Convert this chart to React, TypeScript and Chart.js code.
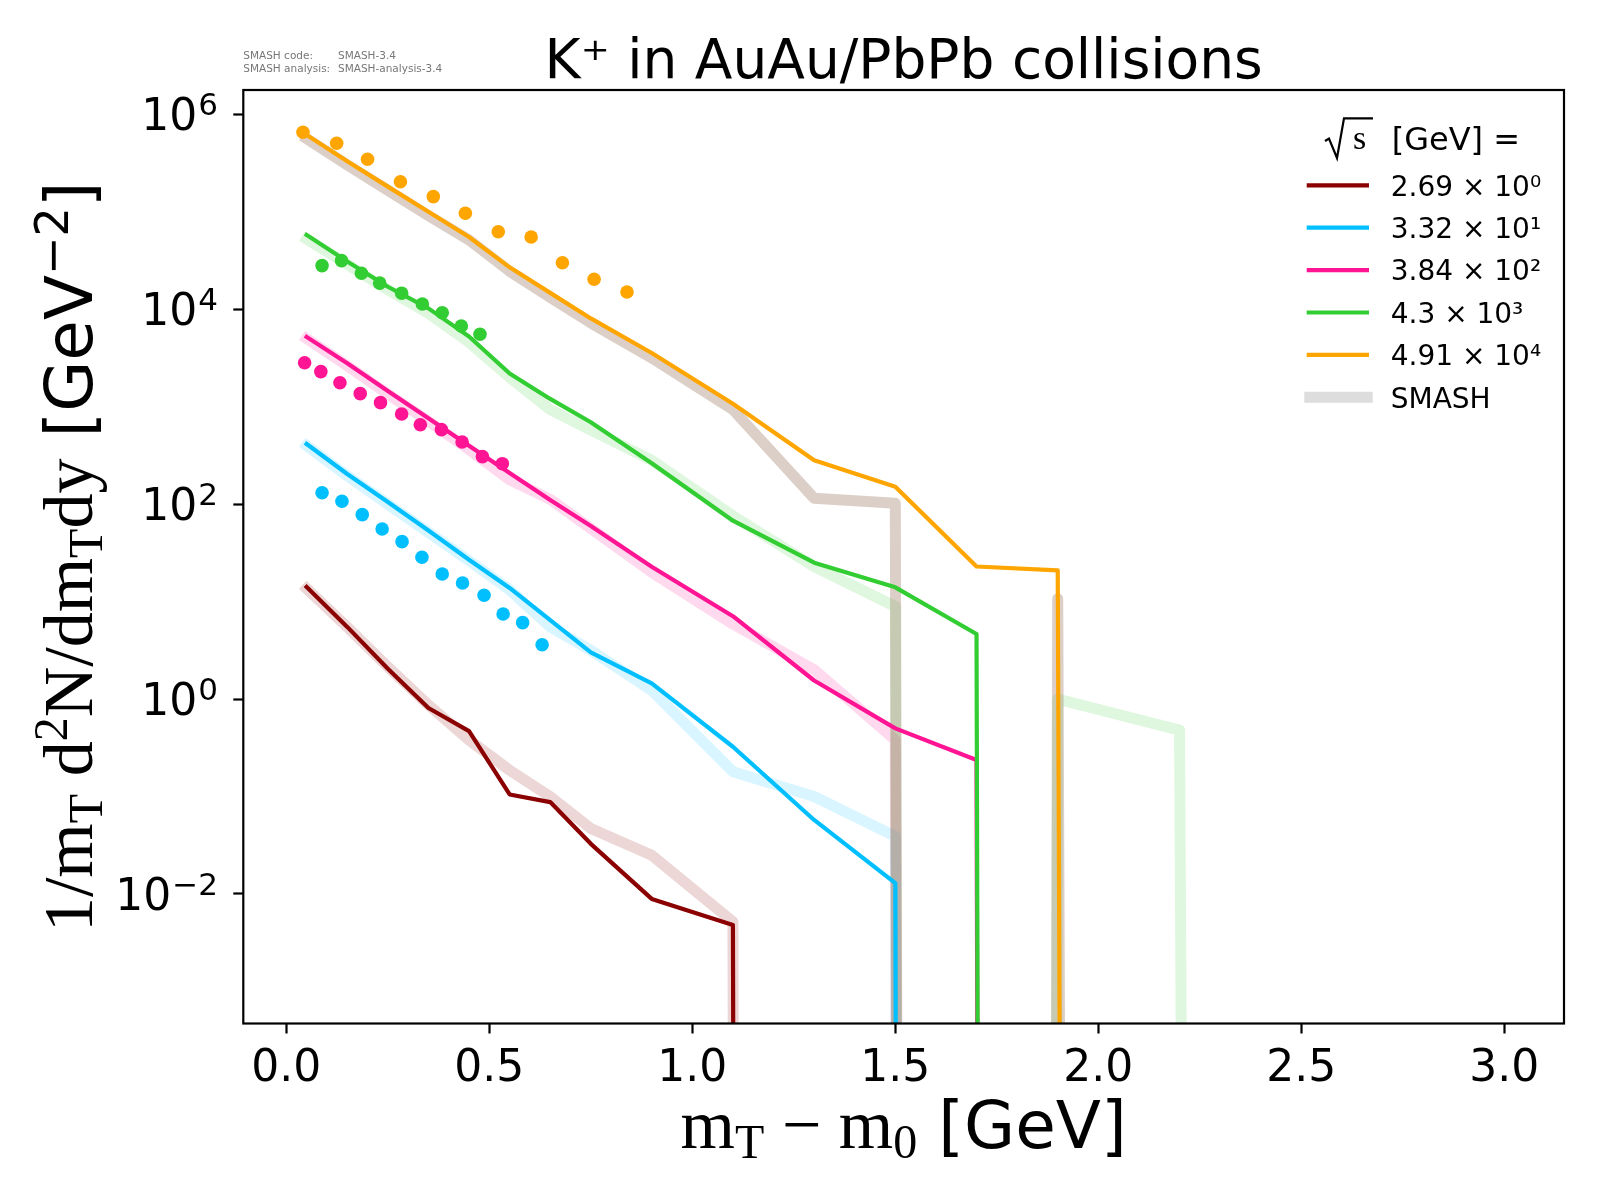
import React, { useEffect, useRef } from 'react';
import { Chart, registerables, LogarithmicScale } from 'chart.js';

// bin centres of the model spectra, m_T - m_0 [GeV]
const mtBins = [0.05, 0.15, 0.25, 0.35, 0.45, 0.55, 0.65, 0.75, 0.9, 1.1, 1.3, 1.5, 1.7, 1.9, 2.2, 2.6, 3.0];

// 1/m_T d2N/dm_T dy [GeV^-2] per sqrt(s); 0 means an empty bin
const model269 = [14.1, 5.5, 2.05, 0.81, 0.468, 0.105, 0.0877, 0.0327, 0.0089, 0.0048, 0, 0, 0, 0, 0, 0, 0];
const smash269 = [13.6, 5.5, 2.14, 0.87, 0.38, 0.186, 0.1, 0.047, 0.025, 0.0052, 0, 0, 0, 0, 0, 0, 0];
const model332 = [414, 204, 105, 53.7, 26.9, 13.8, 6.46, 3.02, 1.45, 0.324, 0.0575, 0.0129, 0, 0, 0, 0, 0];
const smash332 = [398, 195, 100, 51.3, 26.3, 13.2, 5.5, 3.16, 1.23, 0.18, 0.1, 0.039, 0, 0, 0, 0, 0];
const model384 = [5190, 2790, 1450, 759, 398, 209, 110, 59.7, 22.8, 7.08, 1.55, 0.5, 0.237, 0, 0, 0, 0];
const smash384 = [5010, 2630, 1350, 708, 363, 178, 112, 56.2, 20.0, 5.89, 2.0, 0.38, 0, 0, 0, 0, 0];
const model43 = [57800, 30900, 17000, 10200, 5250, 2190, 1200, 692, 263, 67.6, 25.1, 14.0, 4.65, 0, 0, 0, 0];
const smash43 = [52500, 28800, 15800, 9100, 4570, 2000, 933, 575, 282, 75.9, 22.9, 8.9, 0, 1.0, 0.48, 0, 0];
const model491 = [614000, 330000, 181000, 100000, 55000, 26900, 14700, 8040, 3550, 1070, 282, 151, 22.9, 20.9, 0, 0, 0];
const smash491 = [562000, 302000, 166000, 91200, 51300, 24500, 13200, 7240, 3160, 933, 115, 102, 0, 10.7, 0, 0, 0];

// experimental points
const expX332 = [0.088, 0.137, 0.187, 0.236, 0.285, 0.334, 0.384, 0.434, 0.487, 0.534, 0.582, 0.63];
const expY332 = [131, 107, 78, 55.6, 41.2, 28.5, 19.2, 15.5, 11.6, 7.46, 6.08, 3.61];
const expX384 = [0.045, 0.085, 0.132, 0.182, 0.232, 0.284, 0.33, 0.382, 0.433, 0.483, 0.532];
const expY384 = [2820, 2290, 1760, 1360, 1100, 840, 653, 581, 434, 307, 260];
const expX43 = [0.088, 0.136, 0.185, 0.23, 0.284, 0.335, 0.384, 0.431, 0.477];
const expY43 = [28000, 31500, 23400, 18500, 14600, 11300, 9200, 6730, 5530];
const expX491 = [0.041, 0.124, 0.2, 0.281, 0.362, 0.441, 0.522, 0.603, 0.68, 0.758, 0.839];
const expY491 = [653000, 504000, 345000, 203000, 143000, 96400, 62400, 55100, 30000, 20300, 15000];

const energyLabels = ['2.69 × 10⁰', '3.32 × 10¹', '3.84 × 10²', '4.3 × 10³', '4.91 × 10⁴'];
const xTicks = [0, 0.5, 1, 1.5, 2, 2.5, 3];
const yTicks = [1e-2, 1, 1e2, 1e4, 1e6];

const colors = ['#8b0000', '#00bfff', '#ff1493', '#32cd32', '#ffa500'];
const bandColors = [
  'rgba(139,0,0,0.16)',
  'rgba(0,191,255,0.15)',
  'rgba(255,20,147,0.16)',
  'rgba(50,205,50,0.155)',
  'rgba(138,95,72,0.3)',
];

const SANS = '"DejaVu Sans"';
const SERIF = '"Liberation Serif"';

const series = [
  { model: model269, smash: smash269, expX: [] as number[], expY: [] as number[] },
  { model: model332, smash: smash332, expX: expX332, expY: expY332 },
  { model: model384, smash: smash384, expX: expX384, expY: expY384 },
  { model: model43, smash: smash43, expX: expX43, expY: expY43 },
  { model: model491, smash: smash491, expX: expX491, expY: expY491 },
];

// log axis that sends empty bins far below the frame (like matplotlib's clipping)
class ClipLogScale extends LogarithmicScale {
  static id = 'cliplog';
  static defaults = LogarithmicScale.defaults;
  parse(raw: unknown, index: number) {
    if (raw === 0) return 1e-300;
    return super.parse(raw, index);
  }
}

Chart.register(...registerables, ClipLogScale);

type Run = { text: string; font: string; dy?: number };

const drawRuns = (ctx: CanvasRenderingContext2D, runs: Run[], cx: number, baseline: number) => {
  const widths = runs.map(r => {
    ctx.font = r.font;
    return ctx.measureText(r.text).width;
  });
  let x = cx - widths.reduce((a, b) => a + b, 0) / 2;
  runs.forEach((r, i) => {
    ctx.font = r.font;
    ctx.fillText(r.text, x, baseline + (r.dy ?? 0));
    x += widths[i];
  });
};

const xTitle: Run[] = [
  { text: 'm', font: `70px ${SERIF}` },
  { text: 'T', font: `48px ${SERIF}`, dy: 10 },
  { text: ' − ', font: `70px ${SERIF}` },
  { text: 'm', font: `70px ${SERIF}` },
  { text: '0', font: `48px ${SERIF}`, dy: 10 },
  { text: ' [GeV]', font: `66px ${SANS}` },
];

const yTitle: Run[] = [
  { text: '1/m', font: `70px ${SERIF}` },
  { text: 'T', font: `48px ${SERIF}`, dy: 10 },
  { text: ' d', font: `70px ${SERIF}` },
  { text: '2', font: `48px ${SERIF}`, dy: -25 },
  { text: 'N/dm', font: `70px ${SERIF}` },
  { text: 'T', font: `48px ${SERIF}`, dy: 10 },
  { text: 'dy', font: `70px ${SERIF}` },
  { text: ' [GeV', font: `66px ${SANS}` },
  { text: '−2', font: `46px ${SANS}`, dy: -24 },
  { text: ']', font: `66px ${SANS}` },
];

const decorations = {
  id: 'decorations',
  afterDraw(chart: Chart) {
    const { ctx, chartArea: a } = chart;
    const cx = (a.left + a.right) / 2;
    ctx.save();
    ctx.textAlign = 'left';
    ctx.textBaseline = 'alphabetic';

    // frame
    ctx.strokeStyle = '#000';
    ctx.lineWidth = 2.2;
    ctx.strokeRect(a.left, a.top, a.right - a.left, a.bottom - a.top);

    // y tick labels 10^n with a real superscript
    ctx.fillStyle = '#000';
    const yScale: any = chart.scales.y;
    yScale.ticks.forEach((t: any) => {
      const py = yScale.getPixelForValue(t.value);
      const exp = String(Math.round(Math.log10(t.value))).replace('-', '−');
      ctx.font = `44px ${SANS}`;
      const wBase = ctx.measureText('10').width;
      ctx.font = `31px ${SANS}`;
      const wExp = ctx.measureText(exp).width;
      const x0 = 217 - wBase - wExp;
      ctx.font = `44px ${SANS}`;
      ctx.fillText('10', x0, py + 16);
      ctx.font = `31px ${SANS}`;
      ctx.fillText(exp, x0 + wBase + 1, py + 1);
    });

    // title
    drawRuns(ctx, [{ text: 'K⁺ in AuAu/PbPb collisions', font: `55px ${SANS}` }], cx, 78);

    // version stamp
    ctx.fillStyle = '#777';
    ctx.font = `10.5px ${SANS}`;
    ctx.fillText('SMASH code:', a.left, 59);
    ctx.fillText('SMASH-3.4', 338, 59);
    ctx.fillText('SMASH analysis:', a.left, 71.5);
    ctx.fillText('SMASH-analysis-3.4', 338, 71.5);

    // axis titles
    ctx.fillStyle = '#000';
    drawRuns(ctx, xTitle, cx, 1148);
    ctx.save();
    ctx.translate(92, (a.top + a.bottom) / 2);
    ctx.rotate(-Math.PI / 2);
    drawRuns(ctx, yTitle, 0, 0);
    ctx.restore();

    // legend title: sqrt(s) [GeV] =
    ctx.strokeStyle = '#000';
    ctx.lineWidth = 2.2;
    ctx.lineJoin = 'miter';
    ctx.beginPath();
    ctx.moveTo(1325, 141);
    ctx.lineTo(1329, 138.5);
    ctx.lineTo(1337, 158);
    ctx.lineTo(1344, 118.3);
    ctx.lineTo(1373, 118.3);
    ctx.stroke();
    ctx.font = `34px ${SERIF}`;
    ctx.fillText('s', 1353, 148.5);
    ctx.font = `32px ${SANS}`;
    ctx.fillText('[GeV] =', 1391.7, 149.5);

    // legend entries
    const rows = [...energyLabels, 'SMASH'];
    rows.forEach((label, i) => {
      const y = 185.3 + i * 42.4;
      const isBand = i === rows.length - 1;
      ctx.strokeStyle = isBand ? '#dddddd' : colors[i];
      ctx.lineWidth = isBand ? 11 : 4.2;
      ctx.lineCap = 'butt';
      ctx.beginPath();
      ctx.moveTo(isBand ? 1304.3 : 1306.7, y);
      ctx.lineTo(isBand ? 1372.7 : 1369, y);
      ctx.stroke();
      ctx.fillStyle = '#000';
      ctx.font = `28px ${SANS}`;
      ctx.fillText(label, 1390.7, y + 10.2);
    });
    ctx.restore();
  },
};

export default function App() {
  const canvasRef = useRef<HTMLCanvasElement | null>(null);

  useEffect(() => {
    if (!canvasRef.current) return;

    const datasets: any[] = [];
    series.forEach((s, k) => {
      datasets.push({
        label: 'SMASH ' + energyLabels[k],
        data: mtBins.map((x, i) => ({ x, y: s.smash[i] })),
        borderColor: bandColors[k],
        borderWidth: 11,
        borderCapStyle: 'square',
        borderJoinStyle: 'round',
        pointRadius: 0,
        clip: 0,
        order: 20 + (4 - k),
      });
      datasets.push({
        label: energyLabels[k],
        data: mtBins.map((x, i) => ({ x, y: s.model[i] })),
        borderColor: colors[k],
        borderWidth: 4.2,
        borderCapStyle: 'square',
        borderJoinStyle: 'round',
        pointRadius: 0,
        clip: 0,
        order: 10 + (4 - k),
      });
      if (s.expX.length) {
        datasets.push({
          label: 'data ' + energyLabels[k],
          data: s.expX.map((x, i) => ({ x, y: s.expY[i] })),
          showLine: false,
          pointRadius: 6.8,
          pointBorderWidth: 0,
          pointBackgroundColor: colors[k],
          borderColor: colors[k],
          clip: 0,
          order: 4 - k,
        });
      }
    });

    const chart = new Chart(canvasRef.current, {
      type: 'line',
      data: { datasets },
      options: {
        animation: false,
        responsive: false,
        devicePixelRatio: 1,
        events: [],
        layout: { autoPadding: false, padding: { left: 0, top: 90, right: 36, bottom: 0 } },
        plugins: { legend: { display: false }, title: { display: false }, tooltip: { enabled: false } },
        scales: {
          x: {
            type: 'linear',
            position: 'bottom',
            min: -0.106,
            max: 3.147,
            bounds: 'data',
            afterBuildTicks: (scale: any) => {
              scale.ticks = xTicks.map(v => ({ value: v }));
            },
            afterFit: (scale: any) => {
              scale.height = 176.5;
            },
            grid: { drawOnChartArea: false, drawTicks: true, tickLength: 10, tickWidth: 2.2, tickColor: '#000' },
            border: { display: false },
            ticks: {
              autoSkip: false,
              maxRotation: 0,
              padding: 10,
              color: '#000',
              font: { family: 'DejaVu Sans', size: 44 },
              callback: (v: any) => Number(v).toFixed(1),
            },
          },
          y: {
            type: 'cliplog',
            position: 'left',
            min: 4.69e-4,
            max: 1.774e6,
            bounds: 'data',
            afterBuildTicks: (scale: any) => {
              scale.ticks = yTicks.map(v => ({ value: v }));
            },
            afterFit: (scale: any) => {
              scale.width = 243.3;
            },
            grid: { drawOnChartArea: false, drawTicks: true, tickLength: 10, tickWidth: 2.2, tickColor: '#000' },
            border: { display: false },
            ticks: {
              autoSkip: false,
              padding: 15,
              color: '#000',
              font: { family: 'DejaVu Sans', size: 44 },
              // labels with superscripts are painted by the decorations plugin
              callback: () => '',
            },
          },
        } as any,
      },
      plugins: [decorations],
    });

    return () => chart.destroy();
  }, []);

  return (
    <div style={{ position: 'absolute', left: 0, top: 0, width: 1600, height: 1200, background: '#fff' }}>
      <canvas ref={canvasRef} width={1600} height={1200} style={{ display: 'block', width: 1600, height: 1200 }} />
    </div>
  );
}
